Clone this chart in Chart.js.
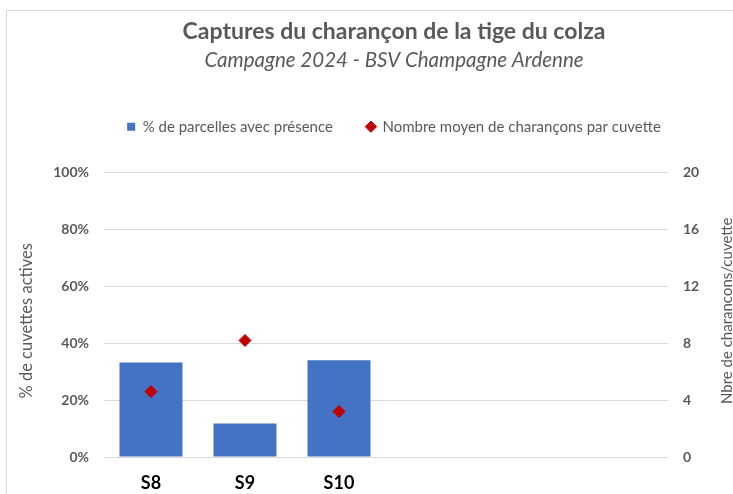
<!DOCTYPE html>
<html><head><meta charset="utf-8">
<script src="https://cdn.jsdelivr.net/npm/chart.js@4"></script>
<style>
html,body{margin:0;padding:0;overflow:hidden;background:#fff}
#wrap{position:absolute;left:0;top:0;width:733px;height:494px;overflow:hidden}
canvas{display:block}
</style></head><body>
<div id="wrap"><canvas id="c" width="788" height="494"></canvas></div>
<script>
const categories = ["S8", "S9", "S10", "", "", ""];
const pctParcelles = [33.2, 11.8, 34.0, null, null, null];
const nbCharancons = [4.6, 8.2, 3.2, null, null, null];
const leftTickStep = 20;
const rightTickStep = 4;
const seriesNames = ["% de parcelles avec présence", "Nombre moyen de charançons par cuvette"];
const titleText = "Captures du charançon de la tige du colza";
const subtitleText = "Campagne 2024 - BSV Champagne Ardenne";
const leftTitle = "% de cuvettes actives";
const rightTitle = "Nbre de charancons/cuvette";

const FONT = "Lato, 'Open Sans', sans-serif";
const GREY = "#595959";

const framePlugin = {
  id: 'frame',
  beforeDraw(chart) {
    const ctx = chart.ctx;
    ctx.save();
    ctx.strokeStyle = '#d9d9d9';
    ctx.lineWidth = 1;
    ctx.strokeRect(6.5, 10.5, 900, 700);
    ctx.restore();
  }
};

// axis titles, both reading bottom-to-top as in the reference
const axisTitlesPlugin = {
  id: 'axisTitles',
  afterDraw(chart) {
    const ctx = chart.ctx;
    const a = chart.chartArea;
    const mid = (a.top + a.bottom) / 2;
    const draw = (text, x, y, size) => {
      ctx.save();
      ctx.translate(x, y);
      ctx.rotate(-Math.PI / 2);
      ctx.fillStyle = GREY;
      ctx.font = size + "px " + FONT;
      ctx.textAlign = 'center';
      ctx.textBaseline = 'middle';
      ctx.fillText(text, 0, 0);
      ctx.restore();
    };
    draw(leftTitle, 27, mid + 6, 16.5);
    draw(rightTitle, 727, mid - 4, 15);
  }
};

new Chart(document.getElementById('c'), {
  data: {
    labels: categories,
    datasets: [
      {
        type: 'scatter',
        label: seriesNames[1],
        data: nbCharancons,
        yAxisID: 'y1',
        xAxisID: 'x',
        backgroundColor: '#C00000',
        borderColor: '#C00000',
        pointStyle: 'rectRot',
        pointRadius: 6,
        pointHoverRadius: 6,
        borderWidth: 1,
        showLine: false,
        order: 0
      },
      {
        type: 'bar',
        label: seriesNames[0],
        data: pctParcelles,
        yAxisID: 'y',
        xAxisID: 'x',
        backgroundColor: '#4472C4',
        borderWidth: 0,
        categoryPercentage: 0.67,
        barPercentage: 1.0,
        pointStyle: 'rect',
        order: 1
      }
    ]
  },
  options: {
    responsive: false,
    animation: false,
    events: [],
    layout: { padding: { left: 0, right: 0, top: 0, bottom: 0 } },
    plugins: {
      title: {
        display: true,
        text: titleText,
        color: GREY,
        font: { family: FONT, size: 23, weight: 'bold', lineHeight: 1.2 },
        padding: { top: 18, bottom: 0 }
      },
      subtitle: {
        display: true,
        text: subtitleText,
        color: GREY,
        font: { family: FONT, size: 20.5, style: 'italic', lineHeight: 1.2 },
        padding: { top: 2, bottom: 13 }
      },
      legend: {
        display: true,
        position: 'top',
        reverse: true,
        labels: {
          color: GREY,
          font: { family: FONT, size: 15 },
          usePointStyle: true,
          boxHeight: 8,
          boxWidth: 8,
          padding: 34
        }
      },
      tooltip: { enabled: false }
    },
    scales: {
      x: {
        type: 'category',
        position: 'bottom',
        offset: true,
        grid: { display: false },
        border: { display: false },
        ticks: {
          color: '#000',
          font: { family: FONT, size: 18, weight: 'bold' },
          padding: 7,
          maxRotation: 0,
          autoSkip: false
        },
        afterFit(s) { s.height = 37; }
      },
      gap: {
        type: 'category',
        position: 'top',
        display: true,
        grid: { display: false },
        border: { display: false },
        ticks: { display: false },
        afterFit(s) { s.height = 28.5; }
      },
      y: {
        type: 'linear',
        position: 'left',
        min: 0,
        max: 100,
        ticks: {
          stepSize: leftTickStep,
          color: GREY,
          font: { family: FONT, size: 14, weight: 'bold' },
          padding: 15,
          callback: v => v + '%'
        },
        grid: { color: '#d9d9d9', lineWidth: 1, drawTicks: false },
        border: { display: false },
        title: { display: false, text: leftTitle },
        afterFit(s) { s.width = 104; }
      },
      y1: {
        type: 'linear',
        position: 'right',
        min: 0,
        max: 20,
        ticks: {
          stepSize: rightTickStep,
          color: GREY,
          font: { family: FONT, size: 14, weight: 'bold' },
          padding: 15
        },
        grid: { display: false, drawTicks: false },
        border: { display: false },
        title: { display: false, text: rightTitle },
        afterFit(s) { s.width = 120; }
      }
    }
  },
  plugins: [framePlugin, axisTitlesPlugin]
});
</script>
</body></html>
